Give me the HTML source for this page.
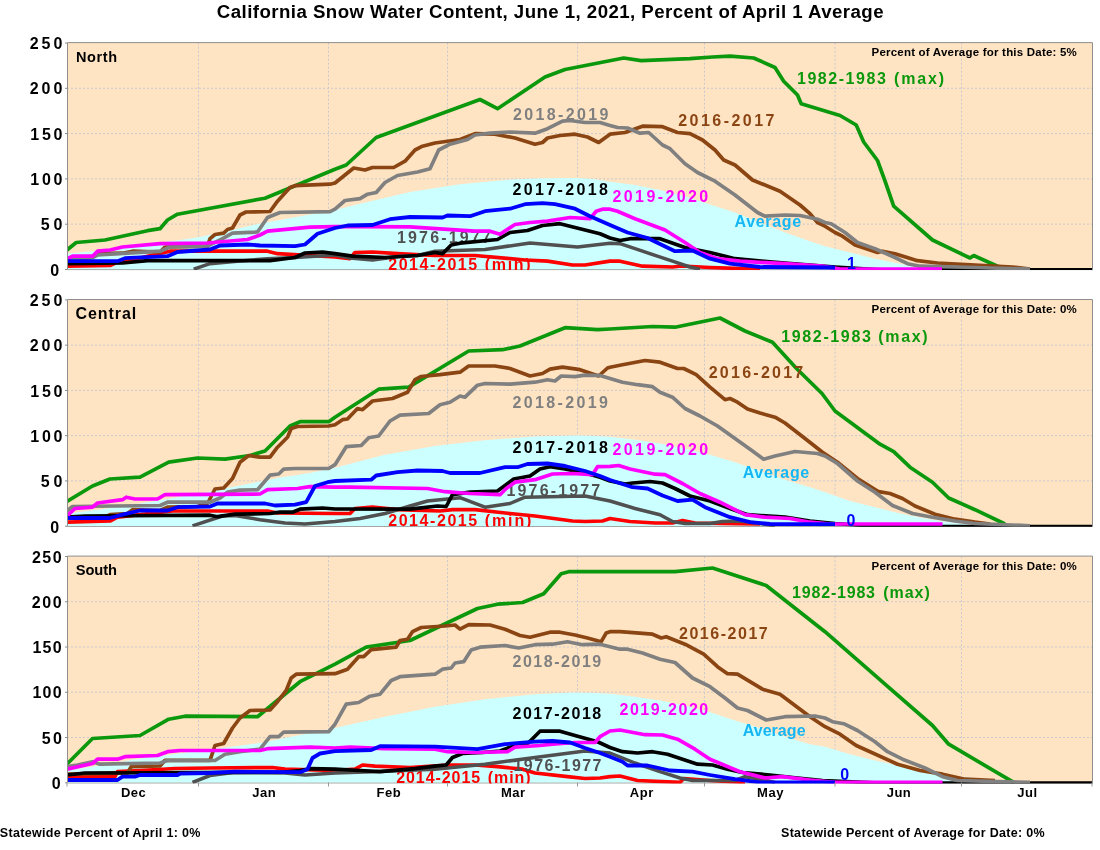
<!DOCTYPE html><html><head><meta charset="utf-8"><title>California Snow Water Content</title>
<style>html,body{margin:0;padding:0;background:#fff}body{width:1100px;height:850px;overflow:hidden}svg{display:block;will-change:transform}text{font-family:"Liberation Sans",sans-serif;font-weight:bold}.c{fill:none;stroke-linejoin:round;stroke-linecap:butt}.g{stroke:#c9c9ce;stroke-width:1;stroke-dasharray:2 2;fill:none}</style></head><body>
<svg width="1100" height="850" viewBox="0 0 1100 850">
<rect width="1100" height="850" fill="#fff"/>
<text x="216.85" y="18.0" font-size="18.67" letter-spacing="0.441" fill="#000">California Snow Water Content, June 1, 2021, Percent of April 1 Average</text>
<clipPath id="cp0"><rect x="67" y="42.7" width="1026" height="227.40"/></clipPath>
<clipPath id="cp1"><rect x="67" y="299.6" width="1026" height="227.20"/></clipPath>
<clipPath id="cp2"><rect x="67" y="556.2" width="1026" height="227.20"/></clipPath>
<g id="p0">
<rect x="67" y="42.7" width="1025" height="226.5" fill="#ffe4c4"/>
<path d="M67 269.60H1093" fill="none" stroke="#909090" stroke-width="1"/>
<g clip-path="url(#cp0)">
<path class="g" d="M67 224.15H1092"/>
<path class="g" d="M67 178.85H1092"/>
<path class="g" d="M67 133.55H1092"/>
<path class="g" d="M67 88.25H1092"/>
<path class="g" d="M198.5 42.7V269.2"/>
<path class="g" d="M328.5 42.7V269.2"/>
<path class="g" d="M447.5 42.7V269.2"/>
<path class="g" d="M577.5 42.7V269.2"/>
<path class="g" d="M704.5 42.7V269.2"/>
<path class="g" d="M835.0 42.7V269.2"/>
<path class="g" d="M961.5 42.7V269.2"/>
<polygon fill="#ccffff" points="67.0,253.5 80.0,252.5 100.0,250.5 125.0,247.5 156.0,243.0 175.0,240.7 200.0,237.0 230.0,230.5 260.0,223.6 280.0,220.0 310.0,214.5 335.0,210.0 360.0,203.7 410.0,192.0 460.0,184.2 510.0,179.6 545.0,178.3 577.0,178.0 595.0,179.3 610.0,181.7 635.0,185.0 660.0,190.0 685.0,196.2 710.0,204.5 735.0,212.5 760.0,222.5 785.0,232.5 810.0,241.2 825.0,246.2 850.0,252.5 875.0,258.7 900.0,263.7 915.0,267.0 922.0,269.0 922.0,269.2 67.0,269.2"/>
<text x="734.50" y="227.1" font-size="16" letter-spacing="0.667" fill="#14b6f4">Average</text>
<polyline class="c" stroke="#0c980c" stroke-width="3.7" points="67.0,250.0 76.2,242.5 105.0,240.0 147.5,230.7 160.0,228.7 167.5,220.0 177.5,214.2 265.0,198.2 335.0,169.2 346.2,165.0 376.2,137.5 480.0,99.5 497.5,108.7 545.0,77.0 565.0,69.5 623.7,58.0 641.2,60.7 690.0,58.7 712.5,57.0 730.0,56.2 753.7,58.0 775.0,67.5 783.7,81.2 797.5,95.0 801.2,103.7 840.0,115.5 856.2,125.0 863.7,142.0 877.5,160.5 885.0,181.0 893.7,206.2 932.5,240.0 970.0,258.0 973.7,255.5 997.5,266.2 1005.0,269.1"/>
<text x="797.00" y="84.4" font-size="16" letter-spacing="1.537" fill="#0c980c">1982-1983</text>
<text x="893.95" y="84.4" font-size="16" letter-spacing="1.887" fill="#0c980c">(max)</text>
<polyline class="c" stroke="#ff0000" stroke-width="3.7" points="67.0,266.2 110.0,265.5 117.5,262.0 140.0,258.0 170.0,251.2 267.5,251.2 277.5,253.7 335.0,257.0 350.0,258.7 355.0,252.5 372.5,252.0 397.5,253.7 435.0,255.5 475.0,255.5 510.0,258.7 525.0,260.0 547.5,261.2 572.5,265.0 585.0,265.0 610.0,261.2 620.0,261.2 642.5,266.2 672.5,267.0 682.0,266.0 710.0,267.5 760.0,269.1"/>
<text x="388.20" y="270.2" font-size="16" letter-spacing="1.562" fill="#ff0000">2014-2015</text>
<text x="484.75" y="270.2" font-size="16" letter-spacing="1.700" fill="#ff0000">(min)</text>
<polyline class="c" stroke="#505050" stroke-width="3.5" points="193.7,269.1 210.0,263.7 240.0,261.0 267.5,258.7 295.0,257.5 335.0,255.0 350.0,258.0 372.5,260.0 400.0,256.2 417.5,255.5 435.0,251.2 485.0,249.5 530.0,243.0 577.5,247.0 610.0,243.2 620.0,243.7 642.5,251.2 672.5,261.2 690.0,267.0 700.0,269.1"/>
<text x="397.00" y="242.6" font-size="16" letter-spacing="2.156" fill="#505050">1976-1977</text>
<polyline class="c" stroke="#8b4513" stroke-width="3.7" points="67.0,260.0 92.5,257.5 97.5,253.7 122.5,253.2 132.5,251.2 160.0,252.0 165.0,247.0 207.5,246.2 210.0,238.7 215.0,234.5 223.7,233.2 227.5,229.5 232.5,228.0 240.0,215.0 246.0,212.0 270.0,211.5 277.5,201.2 290.0,187.5 295.0,185.7 330.0,184.2 335.0,183.0 353.7,168.0 365.0,170.0 372.5,167.5 393.7,167.5 405.0,161.2 415.0,150.0 422.5,146.2 435.0,143.0 460.0,139.5 475.0,133.7 495.0,134.2 515.0,138.0 535.0,144.2 542.5,142.5 547.5,138.0 560.0,135.5 575.0,134.2 587.5,137.0 598.7,142.5 610.0,134.2 625.0,132.5 642.5,126.2 662.5,126.7 677.5,132.5 690.0,133.7 702.5,140.0 715.0,150.0 723.7,160.0 735.0,165.0 752.5,180.0 780.0,191.2 800.0,205.0 810.0,213.7 817.5,222.5 825.0,226.2 835.0,232.5 842.5,236.2 855.0,245.0 877.5,252.5 882.5,251.2 895.0,253.7 917.5,260.7 937.5,263.0 975.0,265.0 1012.5,267.0 1030.0,269.1"/>
<text x="678.20" y="125.9" font-size="16" letter-spacing="2.469" fill="#8b4513">2016-2017</text>
<polyline class="c" stroke="#000000" stroke-width="3.7" points="67.0,263.7 122.5,263.0 147.5,260.7 270.0,260.7 295.0,257.5 305.0,253.0 322.5,252.0 335.0,253.7 352.5,256.2 385.0,257.5 417.5,255.5 435.0,252.5 442.5,253.7 451.2,245.0 460.0,243.2 497.5,239.5 510.0,232.5 527.5,230.5 542.5,225.5 560.0,223.7 575.0,227.5 600.0,233.7 610.0,238.0 620.0,240.5 630.0,238.7 660.0,238.7 685.0,247.5 710.0,252.5 735.0,258.7 772.5,262.0 810.0,265.0 835.0,267.0 880.0,269.8 1092.0,269.8"/>
<text x="512.50" y="195.4" font-size="16" letter-spacing="2.375" fill="#000000">2017-2018</text>
<polyline class="c" stroke="#808080" stroke-width="3.7" points="67.0,258.7 92.5,257.5 97.5,255.0 160.0,251.2 170.0,247.0 207.5,246.2 222.5,238.7 232.5,233.2 257.5,232.0 267.5,217.5 280.0,212.5 330.0,211.7 335.0,209.2 345.0,200.5 360.0,198.7 367.5,194.2 376.2,192.5 385.0,182.5 397.5,175.5 417.5,172.0 430.0,168.7 438.7,150.0 450.0,144.2 467.5,139.5 475.0,135.0 490.0,133.2 510.0,132.0 535.0,133.2 547.5,128.7 562.5,121.2 570.0,120.5 585.0,122.5 600.0,122.5 610.0,125.5 617.5,127.5 627.5,128.0 640.0,133.2 648.7,132.5 662.5,145.0 670.0,148.7 685.0,163.7 697.5,172.5 715.0,181.2 735.0,195.0 757.5,212.5 765.0,216.2 785.0,215.0 800.0,215.5 817.5,219.2 825.0,222.5 831.2,223.7 845.0,232.5 857.5,242.5 875.0,248.7 895.0,257.5 907.5,263.7 920.0,266.2 975.0,267.5 1030.0,269.1"/>
<text x="513.00" y="119.9" font-size="16" letter-spacing="2.350" fill="#808080">2018-2019</text>
<polyline class="c" stroke="#ff00ff" stroke-width="3.7" points="67.0,258.7 72.5,256.2 92.5,256.2 97.5,251.2 110.0,250.0 122.5,247.0 160.0,243.7 207.5,243.0 247.5,239.5 260.0,235.0 267.5,231.2 310.0,227.2 335.0,226.6 360.0,226.6 410.0,226.8 440.0,228.9 475.0,231.2 490.0,231.2 500.0,234.2 515.0,224.5 530.0,222.5 547.5,221.2 570.0,217.5 590.0,218.7 596.2,211.2 602.5,209.2 610.0,209.2 617.5,211.2 635.0,218.7 665.0,230.0 685.0,242.5 700.0,252.5 717.5,258.7 740.0,261.2 785.0,263.7 822.5,266.2 840.0,269.1 942.0,269.1"/>
<text x="612.50" y="202.1" font-size="16" letter-spacing="2.406" fill="#ff00ff">2019-2020</text>
<polyline class="c" stroke="#0000ff" stroke-width="3.8" points="67.0,261.2 117.5,261.2 125.0,258.2 167.5,256.2 177.5,252.0 210.0,249.5 220.0,245.5 247.5,244.5 260.0,245.5 295.0,246.2 305.0,244.5 317.5,233.7 335.0,228.0 347.5,225.5 372.5,225.0 390.0,219.2 410.0,217.0 442.5,217.5 447.5,215.5 470.0,216.2 485.0,211.2 510.0,208.7 525.0,204.2 542.5,203.2 555.0,204.2 575.0,208.7 590.0,216.2 610.0,225.0 627.5,232.5 647.5,238.0 675.0,251.2 692.5,250.5 710.0,258.7 730.0,263.7 760.0,267.0 835.0,267.5"/>
<text x="846.90" y="268.5" font-size="16" letter-spacing="0.000" fill="#0000ff">1</text>
</g>
<path d="M67.5 269.2V42.60H1092.5V270.10" fill="none" stroke="#8e8e8e" stroke-width="1"/>
<path d="M65 269.50H67" stroke="#8c8c8c" stroke-width="1"/>
<text x="50.35" y="275.9" font-size="16" letter-spacing="0.000" fill="#000">0</text>
<path d="M65 224.20H67" stroke="#8c8c8c" stroke-width="1"/>
<text x="40.70" y="230.3" font-size="16" letter-spacing="4.000" fill="#000">50</text>
<path d="M65 178.90H67" stroke="#8c8c8c" stroke-width="1"/>
<text x="30.30" y="185.0" font-size="16" letter-spacing="2.700" fill="#000">100</text>
<path d="M65 133.60H67" stroke="#8c8c8c" stroke-width="1"/>
<text x="30.30" y="139.7" font-size="16" letter-spacing="2.700" fill="#000">150</text>
<path d="M65 88.30H67" stroke="#8c8c8c" stroke-width="1"/>
<text x="29.70" y="94.4" font-size="16" letter-spacing="3.000" fill="#000">200</text>
<path d="M65 43.00H67" stroke="#8c8c8c" stroke-width="1"/>
<text x="29.70" y="49.1" font-size="16" letter-spacing="3.000" fill="#000">250</text>
<text x="75.90" y="61.9" font-size="14.5" letter-spacing="0.637" fill="#000">North</text>
<text x="871.55" y="56.2" font-size="11.5" letter-spacing="0.211" fill="#000">Percent of Average for this Date: 5%</text>
</g>
<g id="p1">
<rect x="67" y="299.6" width="1025" height="226.29999999999995" fill="#ffe4c4"/>
<path d="M67 526.30H1093" fill="none" stroke="#909090" stroke-width="1"/>
<g clip-path="url(#cp1)">
<path class="g" d="M67 480.89H1092"/>
<path class="g" d="M67 435.63H1092"/>
<path class="g" d="M67 390.37H1092"/>
<path class="g" d="M67 345.11H1092"/>
<path class="g" d="M198.5 299.6V525.9"/>
<path class="g" d="M328.5 299.6V525.9"/>
<path class="g" d="M447.5 299.6V525.9"/>
<path class="g" d="M577.5 299.6V525.9"/>
<path class="g" d="M704.5 299.6V525.9"/>
<path class="g" d="M835.0 299.6V525.9"/>
<path class="g" d="M961.5 299.6V525.9"/>
<polygon fill="#ccffff" points="67.0,513.5 100.0,509.5 150.0,502.0 198.7,493.5 230.0,487.5 260.0,481.5 280.0,477.5 310.0,473.0 335.0,467.7 385.0,454.7 435.0,446.0 485.0,440.2 535.0,436.5 577.5,435.5 595.0,436.0 610.0,436.7 635.0,439.7 660.0,443.5 685.0,448.5 710.0,454.7 735.0,462.2 760.0,471.0 785.0,479.7 810.0,487.2 825.0,492.2 850.0,501.0 875.0,507.2 900.0,513.5 925.0,518.5 950.0,522.2 965.0,524.0 970.0,525.0 970.0,525.9 67.0,525.9"/>
<text x="742.70" y="477.6" font-size="16" letter-spacing="0.667" fill="#14b6f4">Average</text>
<polyline class="c" stroke="#0c980c" stroke-width="3.7" points="67.0,501.5 92.5,486.0 110.0,479.0 140.0,477.2 168.7,462.2 197.5,458.0 225.0,459.2 250.0,455.5 265.0,451.0 290.0,426.0 300.0,421.7 328.7,421.7 335.0,417.2 378.7,389.2 408.7,387.2 468.7,351.0 502.5,349.7 520.0,346.0 565.0,327.7 597.5,329.7 610.0,329.0 652.5,326.5 675.0,327.2 720.0,318.0 745.0,331.0 772.5,342.2 796.5,368.5 822.0,393.5 835.0,411.0 880.0,444.2 893.7,451.7 910.0,467.2 932.5,482.2 948.7,498.0 975.0,509.7 1005.0,524.0"/>
<text x="781.30" y="341.7" font-size="16" letter-spacing="1.625" fill="#0c980c">1982-1983</text>
<text x="878.25" y="341.7" font-size="16" letter-spacing="1.688" fill="#0c980c">(max)</text>
<polyline class="c" stroke="#ff0000" stroke-width="3.7" points="67.0,522.2 110.0,521.0 117.5,517.2 140.0,514.7 172.5,511.0 267.5,511.0 277.5,513.0 335.0,513.5 350.0,513.5 355.0,508.5 372.5,507.2 397.5,509.7 440.0,511.0 452.5,509.7 475.0,509.7 510.0,513.5 535.0,516.0 572.5,521.0 585.0,521.5 602.5,521.0 610.0,518.5 630.0,521.5 655.0,523.0 672.5,523.0 682.5,520.5 695.0,523.0 722.5,523.5 760.0,524.0"/>
<text x="388.20" y="526.2" font-size="16" letter-spacing="1.562" fill="#ff0000">2014-2015</text>
<text x="484.75" y="526.2" font-size="16" letter-spacing="1.875" fill="#ff0000">(min)</text>
<polyline class="c" stroke="#505050" stroke-width="3.5" points="192.5,525.8 222.5,516.0 235.0,515.5 260.0,519.7 285.0,523.0 305.0,524.0 335.0,521.5 360.0,518.5 385.0,513.5 410.0,506.0 427.5,501.0 460.0,497.7 485.0,507.2 510.0,503.5 525.0,497.2 585.0,496.0 610.0,501.0 635.0,508.5 660.0,514.7 672.5,521.5 685.0,523.5 710.0,523.5 722.5,521.5 740.0,521.0 760.0,523.5 775.0,525.8"/>
<text x="506.50" y="495.6" font-size="16" letter-spacing="2.156" fill="#505050">1976-1977</text>
<polyline class="c" stroke="#8b4513" stroke-width="3.7" points="67.0,517.2 105.0,517.2 110.0,514.7 127.5,513.5 132.5,509.7 160.0,510.5 167.5,507.2 197.5,506.5 207.5,503.5 215.0,489.0 223.7,488.0 232.5,478.5 240.0,462.2 248.7,455.5 260.0,457.2 270.0,457.2 277.5,447.2 287.5,437.2 291.2,428.5 297.5,426.5 328.7,426.0 335.0,424.7 342.5,419.7 347.5,419.0 357.5,408.5 362.5,409.7 372.5,401.0 392.5,398.5 407.5,392.2 415.0,379.7 421.2,376.5 440.0,374.7 460.0,372.2 468.7,366.0 495.0,366.0 510.0,368.5 530.0,376.0 542.5,373.5 550.0,369.2 562.5,367.2 580.0,369.7 598.7,376.0 607.5,368.0 610.0,367.2 622.5,364.7 645.0,360.5 660.0,362.2 677.5,368.5 683.7,368.5 696.2,374.7 710.0,387.2 725.0,399.7 730.0,398.5 737.5,402.2 747.5,409.0 760.0,413.0 775.0,417.2 785.0,423.0 805.0,438.5 822.5,452.2 837.5,462.2 857.5,478.5 878.7,491.7 890.0,493.5 902.5,498.5 915.0,506.0 935.0,514.2 955.0,519.2 975.0,522.2 990.0,524.0"/>
<text x="708.70" y="377.6" font-size="16" letter-spacing="2.256" fill="#8b4513">2016-2017</text>
<polyline class="c" stroke="#000000" stroke-width="3.7" points="67.0,517.2 85.0,516.0 210.0,515.2 217.5,516.7 235.0,514.2 270.0,513.5 280.0,512.2 292.5,512.2 300.0,509.2 322.5,508.0 335.0,509.0 410.0,509.2 437.5,506.0 446.2,506.5 452.5,494.7 470.0,492.2 497.5,491.0 513.7,479.0 530.0,476.0 540.0,469.0 550.0,466.7 565.0,469.0 585.0,473.0 600.0,477.2 610.0,481.0 625.0,484.0 632.5,483.0 650.0,481.5 662.5,483.0 675.0,488.5 690.0,496.0 710.0,501.0 730.0,508.5 747.5,514.7 785.0,517.2 810.0,521.0 835.0,523.5 880.0,526.5 1092.0,526.5"/>
<text x="512.50" y="452.6" font-size="16" letter-spacing="2.375" fill="#000000">2017-2018</text>
<polyline class="c" stroke="#808080" stroke-width="3.7" points="67.0,511.0 72.5,506.5 160.0,505.5 167.5,502.2 210.0,502.2 220.0,498.0 227.5,492.2 240.0,490.2 257.5,489.7 270.0,475.2 278.7,474.0 283.7,469.2 295.0,468.5 328.7,468.5 335.0,464.7 346.2,446.7 361.2,445.5 368.7,437.7 378.7,436.0 390.0,421.0 400.0,415.2 428.7,413.5 440.0,404.7 450.0,402.2 460.0,396.0 465.0,397.2 477.5,385.2 485.0,383.5 510.0,384.2 535.0,382.2 547.5,379.7 555.0,381.0 561.2,376.0 575.0,376.7 585.0,375.2 600.0,375.5 610.0,378.5 622.5,382.2 637.5,384.7 652.5,386.7 660.0,392.2 672.5,397.2 685.0,408.5 700.0,416.0 717.5,426.0 735.0,438.5 752.5,451.0 763.7,459.2 775.0,456.0 795.0,451.5 817.5,453.5 825.0,456.0 837.5,463.5 857.5,481.0 875.0,492.2 892.5,505.5 912.5,513.5 932.5,517.2 955.0,521.0 975.0,523.5 1030.0,525.8"/>
<text x="512.50" y="408.1" font-size="16" letter-spacing="2.375" fill="#808080">2018-2019</text>
<polyline class="c" stroke="#ff00ff" stroke-width="3.7" points="67.0,516.0 75.0,508.5 92.5,507.2 97.5,503.0 122.5,499.7 126.2,497.2 135.0,499.0 157.5,499.0 165.0,494.7 260.0,494.0 267.5,489.7 297.5,488.5 310.0,486.7 335.0,487.2 350.0,487.2 427.5,488.5 445.0,491.7 470.0,493.5 500.0,494.7 506.2,488.5 515.0,482.2 535.0,479.7 552.5,474.0 572.5,473.5 592.5,474.7 597.5,466.7 610.0,466.3 618.7,465.5 630.0,469.0 655.0,474.2 665.0,474.7 682.5,483.5 700.0,493.5 720.0,502.2 745.0,514.7 765.0,517.2 790.0,518.5 810.0,522.2 830.0,524.0 942.5,524.0"/>
<text x="612.50" y="454.6" font-size="16" letter-spacing="2.406" fill="#ff00ff">2019-2020</text>
<polyline class="c" stroke="#0000ff" stroke-width="3.8" points="67.0,518.0 110.0,518.0 122.5,514.7 140.0,510.5 167.5,510.5 177.5,507.2 210.0,506.5 217.5,503.5 265.0,503.5 275.0,505.5 295.0,504.7 306.2,502.2 315.0,486.0 327.5,482.2 335.0,481.0 371.2,479.7 376.2,475.5 397.5,472.2 417.5,470.5 442.5,471.0 450.0,473.0 480.0,473.0 505.0,467.2 517.5,467.2 527.5,464.0 547.5,463.5 565.0,466.0 585.0,471.0 600.0,476.0 610.0,480.0 632.5,487.2 647.5,488.5 662.5,495.5 677.5,501.0 692.5,499.7 705.0,507.2 730.0,517.2 750.0,522.2 770.0,524.0 835.0,524.2"/>
<text x="846.55" y="525.9" font-size="16" letter-spacing="0.000" fill="#0000ff">0</text>
</g>
<path d="M67.5 525.9V299.50H1092.5V526.80" fill="none" stroke="#8e8e8e" stroke-width="1"/>
<path d="M65 526.20H67" stroke="#8c8c8c" stroke-width="1"/>
<text x="50.35" y="532.6" font-size="16" letter-spacing="0.000" fill="#000">0</text>
<path d="M65 480.94H67" stroke="#8c8c8c" stroke-width="1"/>
<text x="40.70" y="487.0" font-size="16" letter-spacing="4.000" fill="#000">50</text>
<path d="M65 435.68H67" stroke="#8c8c8c" stroke-width="1"/>
<text x="30.30" y="441.8" font-size="16" letter-spacing="2.700" fill="#000">100</text>
<path d="M65 390.42H67" stroke="#8c8c8c" stroke-width="1"/>
<text x="30.30" y="396.5" font-size="16" letter-spacing="2.700" fill="#000">150</text>
<path d="M65 345.16H67" stroke="#8c8c8c" stroke-width="1"/>
<text x="29.70" y="351.3" font-size="16" letter-spacing="3.000" fill="#000">200</text>
<path d="M65 299.90H67" stroke="#8c8c8c" stroke-width="1"/>
<text x="29.70" y="306.0" font-size="16" letter-spacing="3.000" fill="#000">250</text>
<text x="75.45" y="318.8" font-size="16" letter-spacing="0.958" fill="#000">Central</text>
<text x="871.55" y="313.1" font-size="11.5" letter-spacing="0.211" fill="#000">Percent of Average for this Date: 0%</text>
</g>
<g id="p2">
<rect x="67" y="556.2" width="1025" height="226.29999999999995" fill="#ffe4c4"/>
<path d="M67 782.90H1093" fill="none" stroke="#909090" stroke-width="1"/>
<g clip-path="url(#cp2)">
<path class="g" d="M67 737.49H1092"/>
<path class="g" d="M67 692.23H1092"/>
<path class="g" d="M67 646.97H1092"/>
<path class="g" d="M67 601.71H1092"/>
<path class="g" d="M198.5 556.2V782.5"/>
<path class="g" d="M328.5 556.2V782.5"/>
<path class="g" d="M447.5 556.2V782.5"/>
<path class="g" d="M577.5 556.2V782.5"/>
<path class="g" d="M704.5 556.2V782.5"/>
<path class="g" d="M835.0 556.2V782.5"/>
<path class="g" d="M961.5 556.2V782.5"/>
<polygon fill="#ccffff" points="67.0,770.5 100.0,765.5 135.0,759.2 198.7,751.0 260.0,743.0 310.0,733.0 335.0,728.0 385.0,716.7 435.0,706.7 485.0,699.2 535.0,694.2 572.5,692.5 595.0,693.0 610.0,693.7 635.0,696.7 660.0,700.5 685.0,705.5 710.0,712.2 735.0,720.5 760.0,728.0 785.0,736.7 810.0,744.2 825.0,746.7 850.0,754.2 875.0,760.5 900.0,766.0 925.0,771.7 950.0,775.5 975.0,778.0 1000.0,780.0 1015.0,781.2 1020.0,782.0 1020.0,782.5 67.0,782.5"/>
<text x="742.70" y="735.9" font-size="16" letter-spacing="0.050" fill="#14b6f4">Average</text>
<polyline class="c" stroke="#0c980c" stroke-width="3.7" points="67.0,764.0 92.5,738.5 140.0,735.5 168.7,719.2 185.0,716.2 257.5,716.7 300.0,681.7 335.0,664.2 366.2,647.2 410.0,640.5 477.5,608.5 497.5,604.2 522.5,602.5 543.7,593.7 561.2,573.7 568.7,571.7 675.0,571.7 712.5,568.0 766.2,585.5 825.0,631.7 885.0,684.2 932.5,725.5 948.7,744.2 1013.7,782.4"/>
<text x="792.10" y="597.6" font-size="16" letter-spacing="0.800" fill="#0c980c">1982-1983</text>
<text x="883.25" y="597.6" font-size="16" letter-spacing="0.963" fill="#0c980c">(max)</text>
<polyline class="c" stroke="#ff0000" stroke-width="3.7" points="67.0,776.7 115.0,776.7 117.5,771.7 140.0,770.5 175.0,768.5 210.0,768.0 272.5,767.5 285.0,769.2 335.0,770.5 355.0,769.2 362.5,765.0 375.0,766.2 410.0,767.5 447.5,765.0 475.0,765.0 497.5,766.7 522.5,769.2 535.0,773.0 567.5,776.7 585.0,778.5 600.0,778.0 610.0,776.7 620.0,776.0 637.5,780.5 680.0,782.4 683.7,778.5 710.0,780.5 745.0,782.4"/>
<text x="396.20" y="783.2" font-size="16" letter-spacing="0.925" fill="#ff0000">2014-2015</text>
<text x="487.65" y="783.2" font-size="16" letter-spacing="0.975" fill="#ff0000">(min)</text>
<polyline class="c" stroke="#505050" stroke-width="3.5" points="192.5,782.4 210.0,775.5 235.0,772.2 285.0,773.0 305.0,775.0 335.0,773.0 372.5,771.7 435.0,769.2 485.0,764.2 535.0,757.5 585.0,751.0 610.0,753.0 635.0,763.0 660.0,771.7 680.0,778.0 692.5,780.5 735.0,780.5 745.0,776.7 760.0,779.2 775.0,782.4"/>
<text x="513.50" y="770.9" font-size="16" letter-spacing="1.431" fill="#505050">1976-1977</text>
<polyline class="c" stroke="#8b4513" stroke-width="3.7" points="67.0,774.2 127.5,773.0 131.2,766.7 160.0,766.0 165.0,760.3 210.0,760.3 215.0,745.5 223.7,743.5 232.5,728.0 240.0,718.0 250.0,710.5 270.0,710.0 277.5,701.7 286.2,690.5 291.2,678.0 296.2,674.2 335.0,673.7 347.5,669.2 358.7,656.7 363.7,656.7 371.2,649.7 396.2,647.2 400.0,640.5 407.5,639.2 412.5,631.7 421.2,627.5 445.0,626.0 455.0,625.0 460.0,629.2 468.7,624.7 490.0,625.0 505.0,629.2 520.0,635.5 530.0,637.2 550.0,632.2 560.0,632.2 575.0,635.0 587.5,638.0 601.2,641.7 606.2,633.0 610.0,631.7 620.0,631.7 652.5,634.2 661.2,638.0 666.2,636.7 685.0,644.2 703.7,654.2 717.5,666.7 727.5,673.7 737.5,674.2 750.0,681.7 762.5,689.2 780.0,694.2 795.0,705.5 810.0,716.7 825.0,726.7 840.0,734.2 856.2,745.5 897.5,764.2 920.0,770.5 942.5,774.2 965.0,779.2 995.0,780.7"/>
<text x="679.00" y="638.9" font-size="16" letter-spacing="1.531" fill="#8b4513">2016-2017</text>
<polyline class="c" stroke="#000000" stroke-width="3.7" points="67.0,775.0 85.0,773.0 285.0,772.2 300.0,770.5 310.0,768.7 335.0,769.2 360.0,770.5 380.0,771.7 415.0,768.7 435.0,766.2 446.2,765.0 452.5,757.5 462.5,753.5 482.5,752.5 500.0,751.0 515.0,745.5 527.5,743.7 540.0,731.2 560.0,731.2 575.0,735.5 597.5,741.7 610.0,747.5 622.5,751.7 637.5,753.0 652.5,751.7 667.5,754.2 682.5,759.2 697.5,764.2 712.5,765.0 727.5,769.2 742.5,772.5 770.0,775.0 797.5,778.0 822.5,780.5 880.0,783.1 1092.0,783.1"/>
<text x="512.50" y="718.9" font-size="16" letter-spacing="1.525" fill="#000000">2017-2018</text>
<polyline class="c" stroke="#808080" stroke-width="3.7" points="67.0,766.7 77.5,765.0 92.5,761.7 100.0,764.2 160.0,763.0 167.5,760.5 215.0,760.5 225.0,754.2 240.0,751.7 260.0,749.2 270.0,736.7 278.7,736.7 283.7,732.2 328.7,731.7 335.0,724.2 346.2,704.2 358.7,702.5 370.0,696.2 380.0,694.2 391.2,680.5 400.0,676.7 435.0,674.2 442.5,669.2 451.2,668.0 455.0,663.0 463.7,661.7 471.2,650.0 480.0,647.2 505.0,645.5 518.7,648.0 535.0,644.7 552.5,644.2 567.5,641.7 582.5,644.7 600.0,644.2 610.0,646.7 620.0,649.2 627.5,649.2 642.5,653.0 660.0,659.2 675.0,662.5 692.5,678.0 710.0,686.7 725.0,698.0 737.5,708.0 747.5,710.5 766.2,720.0 785.0,716.7 815.0,716.0 825.0,718.0 832.5,721.7 843.7,723.7 857.5,730.5 875.0,741.7 887.5,751.7 902.5,759.2 925.0,768.0 942.5,776.7 957.5,780.5 1030.0,782.4"/>
<text x="512.50" y="667.1" font-size="16" letter-spacing="1.525" fill="#808080">2018-2019</text>
<polyline class="c" stroke="#ff00ff" stroke-width="3.7" points="67.0,769.2 92.5,763.5 97.5,759.2 117.5,759.2 125.0,756.7 157.5,755.5 167.5,751.7 180.0,750.5 260.0,750.5 267.5,748.7 310.0,747.2 335.0,748.0 350.0,747.2 385.0,748.7 435.0,749.2 447.5,751.7 475.0,752.5 507.5,751.7 515.0,747.2 540.0,745.5 552.5,744.2 575.0,742.5 595.0,742.5 600.0,736.7 610.0,731.0 620.0,730.0 645.0,734.7 662.5,735.0 677.5,739.2 695.0,749.2 710.0,759.2 740.0,771.7 765.0,778.0 782.5,776.7 810.0,780.0 835.0,782.4 942.5,782.4"/>
<text x="619.50" y="715.1" font-size="16" letter-spacing="1.531" fill="#ff00ff">2019-2020</text>
<polyline class="c" stroke="#0000ff" stroke-width="3.8" points="67.0,780.0 117.5,780.0 122.5,776.7 135.0,776.7 140.0,775.0 177.5,775.0 180.0,773.7 210.0,773.0 235.0,771.7 300.0,772.2 307.5,769.2 312.5,758.0 320.0,753.5 335.0,751.2 371.2,750.0 380.0,746.2 435.0,746.7 477.5,749.2 505.0,744.2 535.0,741.7 552.5,741.0 570.0,742.5 585.0,748.0 600.0,753.0 610.0,756.7 622.5,761.7 627.5,765.5 647.5,765.5 670.0,770.5 692.5,771.7 710.0,775.0 735.0,779.2 760.0,782.4 835.0,782.4"/>
<text x="840.35" y="780.0" font-size="16" letter-spacing="0.000" fill="#0000ff">0</text>
</g>
<path d="M67.5 782.5V556.10H1092.5V783.40" fill="none" stroke="#8e8e8e" stroke-width="1"/>
<path d="M65 782.80H67" stroke="#8c8c8c" stroke-width="1"/>
<text x="51.75" y="789.2" font-size="16" letter-spacing="0.000" fill="#000">0</text>
<path d="M65 737.54H67" stroke="#8c8c8c" stroke-width="1"/>
<text x="41.80" y="743.6" font-size="16" letter-spacing="2.200" fill="#000">50</text>
<path d="M65 692.28H67" stroke="#8c8c8c" stroke-width="1"/>
<text x="32.40" y="698.4" font-size="16" letter-spacing="1.300" fill="#000">100</text>
<path d="M65 647.02H67" stroke="#8c8c8c" stroke-width="1"/>
<text x="32.40" y="653.1" font-size="16" letter-spacing="1.300" fill="#000">150</text>
<path d="M65 601.76H67" stroke="#8c8c8c" stroke-width="1"/>
<text x="31.70" y="607.9" font-size="16" letter-spacing="1.650" fill="#000">200</text>
<path d="M65 556.50H67" stroke="#8c8c8c" stroke-width="1"/>
<text x="31.90" y="562.6" font-size="16" letter-spacing="1.550" fill="#000">250</text>
<text x="75.70" y="575.1" font-size="14.7" letter-spacing="-0.062" fill="#000">South</text>
<text x="871.55" y="569.7" font-size="11.5" letter-spacing="0.211" fill="#000">Percent of Average for this Date: 0%</text>
</g>
<path d="M67.0 782.5V786.5" stroke="#999" stroke-width="1"/>
<path d="M198.5 782.5V786.5" stroke="#999" stroke-width="1"/>
<path d="M328.5 782.5V786.5" stroke="#999" stroke-width="1"/>
<path d="M447.5 782.5V786.5" stroke="#999" stroke-width="1"/>
<path d="M577.5 782.5V786.5" stroke="#999" stroke-width="1"/>
<path d="M704.5 782.5V786.5" stroke="#999" stroke-width="1"/>
<path d="M835.0 782.5V786.5" stroke="#999" stroke-width="1"/>
<path d="M961.5 782.5V786.5" stroke="#999" stroke-width="1"/>
<path d="M1092.0 782.5V786.5" stroke="#999" stroke-width="1"/>
<text x="133.6" y="797.1" font-size="13" letter-spacing="0.5" text-anchor="middle" fill="#000">Dec</text>
<text x="264.3" y="797.1" font-size="13" letter-spacing="0.5" text-anchor="middle" fill="#000">Jan</text>
<text x="388.8" y="797.1" font-size="13" letter-spacing="0.5" text-anchor="middle" fill="#000">Feb</text>
<text x="513.3" y="797.1" font-size="13" letter-spacing="0.5" text-anchor="middle" fill="#000">Mar</text>
<text x="641.8" y="797.1" font-size="13" letter-spacing="0.5" text-anchor="middle" fill="#000">Apr</text>
<text x="770.5" y="797.1" font-size="13" letter-spacing="0.5" text-anchor="middle" fill="#000">May</text>
<text x="899.0" y="797.1" font-size="13" letter-spacing="0.5" text-anchor="middle" fill="#000">Jun</text>
<text x="1027.5" y="797.1" font-size="13" letter-spacing="0.5" text-anchor="middle" fill="#000">Jul</text>
<text x="-0.20" y="837.0" font-size="12.5" letter-spacing="0.321" fill="#000">Statewide Percent of April 1: 0%</text>
<text x="781.00" y="837.0" font-size="12.5" letter-spacing="0.312" fill="#000">Statewide Percent of Average for Date: 0%</text>
</svg></body></html>
